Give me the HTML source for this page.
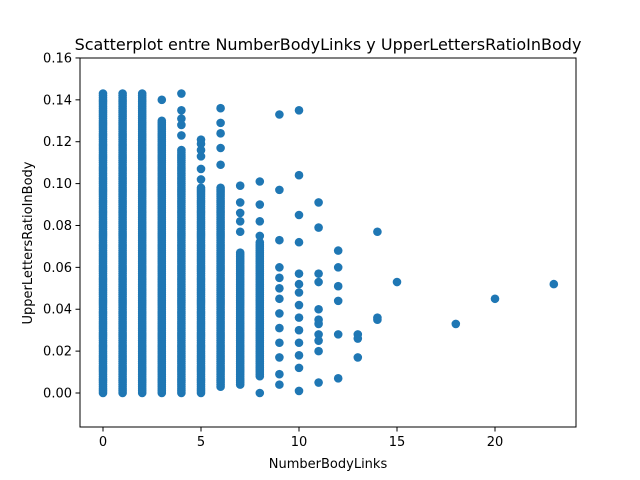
<!DOCTYPE html>
<html><head><meta charset="utf-8"><style>
body{margin:0;background:#fff;}
svg{display:block;font-family:"DejaVu Sans","Liberation Sans",sans-serif;}
</style></head><body>
<svg id="chart" width="640" height="480" viewBox="0 0 640 480">
<rect x="0" y="0" width="640" height="480" fill="#fff"/>
<g id="marks"></g>
<rect x="80" y="58" width="496" height="369" fill="none" stroke="#000" stroke-width="1"/>
<g id="xt"></g>
<g id="yt"></g>
<text x="328" y="50" text-anchor="middle" font-size="16">Scatterplot entre NumberBodyLinks y UpperLettersRatioInBody</text>
<text x="328" y="468" text-anchor="middle" font-size="13">NumberBodyLinks</text>
<text x="32" y="243" text-anchor="middle" font-size="13" transform="rotate(-90 32 243)">UpperLettersRatioInBody</text>
</svg>
<script>
// dense columns: x value, min y, max y
const denseX = [0, 1, 2, 3, 4, 5, 6, 7, 8];
const denseMin = [0, 0, 0, 0, 0, 0, 0.003, 0.004, 0.008];
const denseMax = [0.143, 0.143, 0.143, 0.130, 0.116, 0.098, 0.098, 0.067, 0.072];
// sparse points
const ptX = [3,4,4,4,4,4,5,5,5,5,5,5,6,6,6,6,6,7,7,7,7,7,8,8,8,8,8,
 9,9,9,9,9,9,9,9,9,9,9,9,9,
 10,10,10,10,10,10,10,10,10,10,10,10,10,10,
 11,11,11,11,11,11,11,11,11,11,11,
 12,12,12,12,12,12,13,13,13,14,14,14,15,18,20,23];
const ptY = [0.140,0.143,0.135,0.131,0.128,0.123,0.121,0.119,0.116,0.113,0.107,0.102,0.136,0.129,0.124,0.117,0.109,0.099,0.091,0.086,0.082,0.077,0.101,0.090,0.082,0.075,0.000,
 0.133,0.097,0.073,0.060,0.055,0.050,0.045,0.038,0.031,0.024,0.017,0.009,0.004,
 0.135,0.104,0.085,0.072,0.057,0.052,0.048,0.042,0.036,0.030,0.024,0.018,0.012,0.001,
 0.091,0.079,0.057,0.053,0.040,0.035,0.033,0.028,0.025,0.020,0.005,
 0.068,0.060,0.051,0.044,0.028,0.007,0.028,0.026,0.017,0.077,0.036,0.035,0.053,0.033,0.045,0.052];
const xTicks = [0, 5, 10, 15, 20];
const yTicks = [0, 0.02, 0.04, 0.06, 0.08, 0.10, 0.12, 0.14, 0.16];
const yTickLabels = ["0.00","0.02","0.04","0.06","0.08","0.10","0.12","0.14","0.16"];

const NS = "http://www.w3.org/2000/svg";
const xs = v => 103 + v * 19.6;
const ys = v => 393 - v * 2094;
const marks = document.getElementById('marks');
function dot(x, y) {
  const c = document.createElementNS(NS, 'circle');
  c.setAttribute('cx', xs(x)); c.setAttribute('cy', ys(y)); c.setAttribute('r', 4.3);
  c.setAttribute('fill', '#1f77b4');
  
  
  marks.appendChild(c);
}
denseX.forEach((x, i) => {
  for (let v = denseMin[i]; v <= denseMax[i] + 1e-9; v += 0.001) dot(x, v);
});
ptX.forEach((x, i) => dot(x, ptY[i]));

const xt = document.getElementById('xt');
xTicks.forEach(t => {
  const l = document.createElementNS(NS, 'line');
  l.setAttribute('x1', xs(t)); l.setAttribute('x2', xs(t));
  l.setAttribute('y1', 427); l.setAttribute('y2', 431.5); l.setAttribute('stroke', '#000');
  
  
  xt.appendChild(l);
  const s = document.createElementNS(NS, 'text');
  s.setAttribute('x', xs(t)); s.setAttribute('y', 446); s.setAttribute('text-anchor', 'middle');
  s.setAttribute('font-size', '13'); s.textContent = t;
  
  
  xt.appendChild(s);
});
const yt = document.getElementById('yt');
yTicks.forEach((t, i) => {
  const l = document.createElementNS(NS, 'line');
  l.setAttribute('x1', 75.5); l.setAttribute('x2', 80);
  l.setAttribute('y1', ys(t)); l.setAttribute('y2', ys(t)); l.setAttribute('stroke', '#000');
  
  
  yt.appendChild(l);
  const s = document.createElementNS(NS, 'text');
  s.setAttribute('x', 72); s.setAttribute('y', ys(t) + 4.5); s.setAttribute('text-anchor', 'end');
  s.setAttribute('font-size', '13'); s.textContent = yTickLabels[i];
  
  
  yt.appendChild(s);
});
</script>
</body></html>
